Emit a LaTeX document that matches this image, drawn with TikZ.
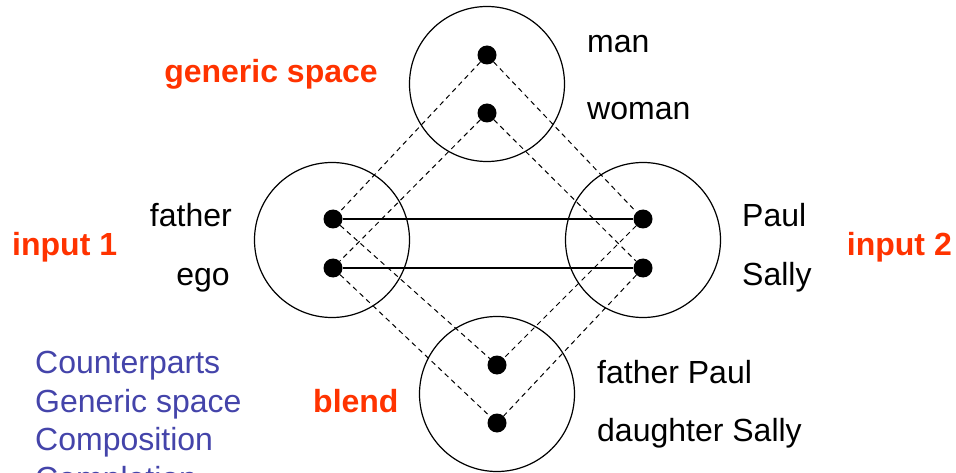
\documentclass[tikz,border=0pt]{standalone}
\usepackage{fontspec}
\setmainfont{Liberation Sans}
\usepackage{tikz}
\definecolor{spacered}{RGB}{255,51,0}
\definecolor{listblue}{RGB}{68,68,170}
\tikzset{
    vertex/.style={circle, fill=black, inner sep=0pt, minimum size=19pt},
    mentalspace/.style={circle, draw, line width=1.2pt, inner sep=0pt, minimum size=155pt},
    mapping/.style={line width=1pt, dash pattern=on 5pt off 4pt},
    link/.style={line width=1.1pt},
    element/.style={inner sep=0pt, font=\fontsize{32pt}{38pt}\selectfont},
    spacename/.style={element, font=\fontsize{32pt}{38pt}\selectfont\bfseries, text=spacered},
    topic/.style={element, text=listblue, anchor=base west}
}

\begin{document}
\begin{tikzpicture}[x=1pt, y=-1pt]
    \useasboundingbox (0,0) rectangle (956,473);
    \clip (0,0) rectangle (956,473);

    % the four spaces
    \node[mentalspace] (generic) at (487,84) {};
    \node[mentalspace] (input1) at (332,240) {};
    \node[mentalspace] (input2) at (643,240) {};
    \node[mentalspace] (blend) at (497,394) {};

    % elements
    \node[vertex] (man) at (487,55) {};
    \node[vertex] (woman) at (487,113) {};
    \node[vertex] (father) at (333,219) {};
    \node[vertex] (ego) at (333,268) {};
    \node[vertex] (paul) at (643,219) {};
    \node[vertex] (sally) at (643,268) {};
    \node[vertex] (fatherpaul) at (497,365) {};
    \node[vertex] (daughtersally) at (497,423) {};

    % counterpart links
    \draw[link] (father) -- (paul);
    \draw[link] (ego) -- (sally);

    % projections
    \draw[mapping] (man) -- (father);
    \draw[mapping] (man) -- (paul);
    \draw[mapping] (woman) -- (ego);
    \draw[mapping] (woman) -- (sally);
    \draw[mapping] (father) -- (fatherpaul);
    \draw[mapping] (paul) -- (fatherpaul);
    \draw[mapping] (ego) -- (daughtersally);
    \draw[mapping] (sally) -- (daughtersally);

    % element labels
    \node[element, anchor=base west] (manlbl) at (587,53) {man};
    \node[element, anchor=base west] (womanlbl) at (587,120) {woman};
    \node[element, anchor=base east] (fatherlbl) at (232,227) {father};
    \node[element, anchor=base east] (egolbl) at (230,285) {ego};
    \node[element, anchor=base west] (paullbl) at (742,227) {Paul};
    \node[element, anchor=base west] (sallylbl) at (742,285) {Sally};
    \node[element, anchor=base west] (fatherpaullbl) at (597,383) {father Paul};
    \node[element, anchor=base west] (daughtersallylbl) at (597,441) {daughter Sally};

    % space names
    \node[spacename, anchor=base] (genericname) at (271,83) {generic space};
    \node[spacename, anchor=base west] (input1name) at (12,256) {input 1};
    \node[spacename, anchor=base east] (input2name) at (952,256) {input 2};
    \node[spacename, anchor=base west] (blendname) at (313,412) {blend};

    % list
    \node[topic] (counterparts) at (35,373) {Counterparts};
    \node[topic] (genericspace) at (35,412) {Generic space};
    \node[topic] (composition) at (35,450) {Composition};
    \node[topic] (completion) at (35,489) {Completion};
\end{tikzpicture}
\end{document}
